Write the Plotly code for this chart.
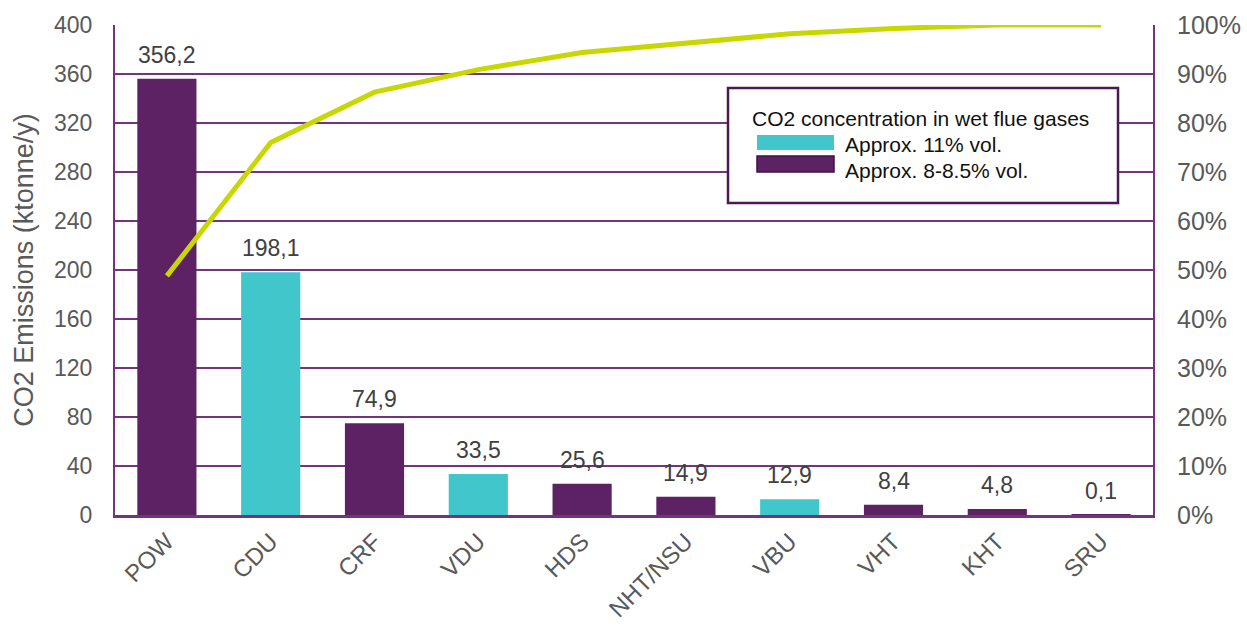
import plotly.graph_objects as go

# Refinery units and their CO2 emissions (ktonne/y)
units = ["POW", "CDU", "CRF", "VDU", "HDS", "NHT/NSU", "VBU", "VHT", "KHT", "SRU"]
emissions = [356.2, 198.1, 74.9, 33.5, 25.6, 14.9, 12.9, 8.4, 4.8, 0.1]
# CO2 concentration group of each unit's flue gas
groups = ["low", "high", "low", "high", "low", "low", "high", "low", "low", "low"]
# Cumulative share of total emissions
cumulative_share = [0.488, 0.760, 0.863, 0.909, 0.944, 0.964, 0.982, 0.993, 1.0, 1.0]

legend_title = "CO2 concentration in wet flue gases"
legend_labels = {"high": "Approx. 11% vol.", "low": "Approx. 8-8.5% vol."}

PURPLE = "#5c2264"
CYAN = "#41c6cb"
LINE = "#c9d700"
GRID = "#74337f"
GRAY = "#595959"
FONT = "Liberation Sans, Arial, sans-serif"

colors = [CYAN if g == "high" else PURPLE for g in groups]

W, H = 1247, 628
ML, MR, MT, MB = 115, 94, 25, 113
PW, PH = W - ML - MR, H - MT - MB

fig = go.Figure()
fig.add_trace(go.Bar(
    x=units, y=emissions, marker=dict(color=colors, line=dict(width=0)),
    showlegend=False, hoverinfo="x+y",
))
fig.add_trace(go.Scatter(
    x=units, y=cumulative_share, yaxis="y2", mode="lines",
    line=dict(color=LINE, width=5), showlegend=False, cliponaxis=False,
))

annotations = []
for u, v in zip(units, emissions):
    annotations.append(dict(
        x=u, y=v, xref="x", yref="y", text=f"{v:.1f}".replace(".", ","),
        showarrow=False, yanchor="bottom", yshift=9,
        font=dict(family=FONT, size=23, color="#404040"),
    ))


def px_x(px):
    return (px - ML) / PW


def px_y(py):
    return (H - MB - py) / PH


shapes = [
    # legend frame
    dict(type="rect", xref="paper", yref="paper",
         x0=px_x(728), x1=px_x(1118), y0=px_y(203), y1=px_y(88),
         line=dict(color="#4a1a55", width=2.5), fillcolor="white", layer="above"),
    dict(type="rect", xref="paper", yref="paper",
         x0=px_x(757), x1=px_x(834), y0=px_y(150), y1=px_y(135),
         line=dict(width=0), fillcolor=CYAN, layer="above"),
    dict(type="rect", xref="paper", yref="paper",
         x0=px_x(757), x1=px_x(834), y0=px_y(172), y1=px_y(156),
         line=dict(color="#3f1245", width=1.5), fillcolor=PURPLE, layer="above"),
]
legend_font = dict(family=FONT, size=21, color="#111111")
annotations += [
    dict(xref="paper", yref="paper", x=px_x(750), y=px_y(118), text=legend_title,
         showarrow=False, xanchor="left", yanchor="middle", font=legend_font),
    dict(xref="paper", yref="paper", x=px_x(843), y=px_y(144), text=legend_labels["high"],
         showarrow=False, xanchor="left", yanchor="middle", font=legend_font),
    dict(xref="paper", yref="paper", x=px_x(843), y=px_y(170), text=legend_labels["low"],
         showarrow=False, xanchor="left", yanchor="middle", font=legend_font),
]

fig.update_layout(
    width=W, height=H,
    margin=dict(l=ML, r=MR, t=MT, b=MB, autoexpand=False),
    paper_bgcolor="white", plot_bgcolor="white",
    separators=",.",
    bargap=0.43,
    font=dict(family=FONT, color=GRAY, size=20),
    shapes=shapes, annotations=annotations,
    xaxis=dict(
        tickangle=-45, tickfont=dict(size=24, color=GRAY), automargin=False,
        showline=True, linecolor=GRID, linewidth=3,
        ticks="", showgrid=False, mirror=False,
    ),
    yaxis=dict(
        range=[0, 400], dtick=40, tick0=0, automargin=False,
        showgrid=True, gridcolor=GRID, gridwidth=2,
        showline=True, linecolor=GRID, linewidth=2,
        zeroline=False, ticks="", ticklabelstandoff=16,
        tickfont=dict(size=23, color=GRAY),
        title=dict(text="CO2 Emissions (ktonne/y)", font=dict(size=27, color=GRAY), standoff=13),
    ),
    yaxis2=dict(
        overlaying="y", side="right", range=[0, 1], dtick=0.1, tick0=0,
        tickformat=".0%", showgrid=False, automargin=False,
        showline=True, linecolor=GRID, linewidth=2,
        zeroline=False, ticks="", ticklabelstandoff=17,
        tickfont=dict(size=25, color=GRAY),
    ),
)

fig.write_html("out.html")
